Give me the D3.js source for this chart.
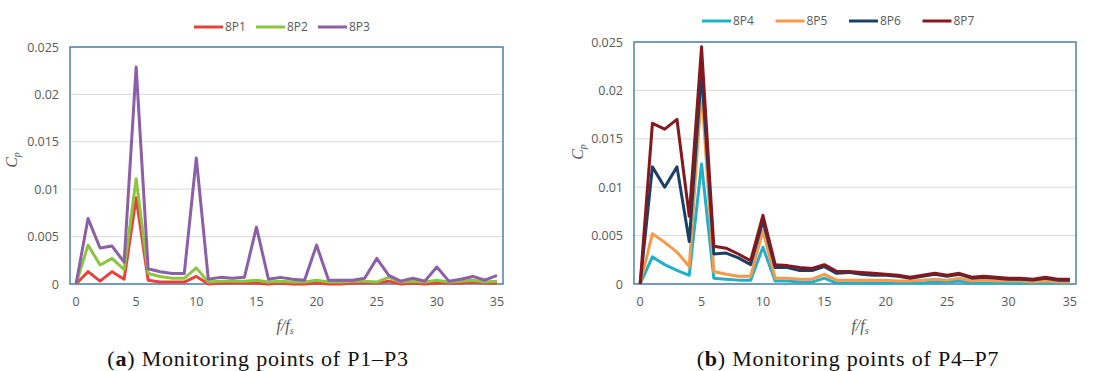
<!DOCTYPE html>
<html>
<head>
<script src="https://d3js.org/d3.v7.min.js"></script>
<style>
  body { margin: 0; background: #fff; }
  .tick text { font-family: "Open Sans", sans-serif; font-size: 12.5px; fill: #595959; }
  .legend text { font-family: "Open Sans", sans-serif; font-size: 12px; fill: #595959; }
  .caption { font-family: "Liberation Serif", serif; font-size: 22px; letter-spacing: 0.8px; fill: #111; }
</style>
</head>
<body>
<div class="chart"></div>
<script>
var w = 1112, h = 371;

// f/fs categories 0..35
var freq = d3.range(0, 36);
var xTicks = [0, 5, 10, 15, 20, 25, 30, 35];
var yTicks = [0, 0.005, 0.01, 0.015, 0.02, 0.025];

var p1 = [0, 0.0013, 0.0003, 0.0013, 0.0005, 0.0091, 0.0004, 0.0002, 0.0002, 0.0002, 0.0008, 0.0000,
          0.0001, 0.0001, 0.0001, 0.0001, 0.0000, 0.0001, 0.0000, 0.0000, 0.0001, 0.0000, 0.0000, 0.0001,
          0.0001, 0.0001, 0.0003, 0.0000, 0.0001, 0.0000, 0.0001, 0.0001, 0.0001, 0.0002, 0.0001, 0.0001];
var p2 = [0, 0.0041, 0.0020, 0.0027, 0.0015, 0.0111, 0.0011, 0.0008, 0.0006, 0.0006, 0.0017, 0.0002,
          0.0003, 0.0003, 0.0003, 0.0004, 0.0002, 0.0003, 0.0002, 0.0002, 0.0004, 0.0002, 0.0002, 0.0003,
          0.0003, 0.0002, 0.0007, 0.0002, 0.0003, 0.0002, 0.0004, 0.0002, 0.0003, 0.0004, 0.0002, 0.0003];
var p3 = [0, 0.0069, 0.0038, 0.0040, 0.0023, 0.0229, 0.0016, 0.0013, 0.0011, 0.0011, 0.0133, 0.0005,
          0.0007, 0.0006, 0.0007, 0.0060, 0.0005, 0.0007, 0.0005, 0.0004, 0.0041, 0.0004, 0.0004, 0.0004,
          0.0006, 0.0027, 0.0009, 0.0003, 0.0006, 0.0003, 0.0018, 0.0003, 0.0005, 0.0008, 0.0004, 0.0009];

var p4 = [0, 0.0028, 0.0020, 0.0014, 0.0009, 0.0124, 0.0006, 0.0005, 0.0004, 0.0004, 0.0038, 0.0003,
          0.0003, 0.0002, 0.0002, 0.0006, 0.0001, 0.0001, 0.0001, 0.0001, 0.0001, 0.0001, 0.0001, 0.0001,
          0.0002, 0.0002, 0.0003, 0.0001, 0.0001, 0.0001, 0.0001, 0.0001, 0.0001, 0.0001, 0.0001, 0.0001];
var p5 = [0, 0.0052, 0.0043, 0.0033, 0.0018, 0.0200, 0.0013, 0.0010, 0.0008, 0.0008, 0.0055, 0.0006,
          0.0006, 0.0005, 0.0005, 0.0010, 0.0004, 0.0004, 0.0004, 0.0004, 0.0004, 0.0003, 0.0003, 0.0004,
          0.0005, 0.0004, 0.0006, 0.0003, 0.0004, 0.0003, 0.0003, 0.0003, 0.0002, 0.0003, 0.0002, 0.0002];
var p6 = [0, 0.0121, 0.0100, 0.0121, 0.0044, 0.0220, 0.0031, 0.0032, 0.0027, 0.0020, 0.0065, 0.0017,
          0.0017, 0.0014, 0.0014, 0.0018, 0.0011, 0.0012, 0.0010, 0.0009, 0.0009, 0.0008, 0.0006, 0.0008,
          0.0010, 0.0008, 0.0010, 0.0006, 0.0007, 0.0006, 0.0005, 0.0005, 0.0004, 0.0006, 0.0004, 0.0004];
var p7 = [0, 0.0166, 0.0160, 0.0170, 0.0070, 0.0245, 0.0039, 0.0037, 0.0031, 0.0024, 0.0071, 0.0020,
          0.0019, 0.0017, 0.0016, 0.0020, 0.0013, 0.0013, 0.0012, 0.0011, 0.0010, 0.0009, 0.0007, 0.0009,
          0.0011, 0.0009, 0.0011, 0.0007, 0.0008, 0.0007, 0.0006, 0.0006, 0.0005, 0.0007, 0.0005, 0.0005];

var leftSeries = [
  {name: "8P1", values: p1, color: "#e8413c"},
  {name: "8P2", values: p2, color: "#8cc540"},
  {name: "8P3", values: p3, color: "#8c5fa8"}
];
var rightSeries = [
  {name: "8P4", values: p4, color: "#1fb1c9"},
  {name: "8P5", values: p5, color: "#f7994a"},
  {name: "8P6", values: p6, color: "#1c3f66"},
  {name: "8P7", values: p7, color: "#86181d"}
];

var svg = d3.select(".chart").append("svg")
  .attr("width", w).attr("height", h);

function drawPanel(opt) {
  var x = d3.scaleBand().domain(freq).range([opt.left, opt.right]);
  var y = d3.scaleLinear().domain([0, 0.025]).range([284, opt.top]);
  var g = svg.append("g");

  // gridlines
  g.append("g").selectAll("line")
    .data(yTicks).enter().append("line")
    .attr("x1", opt.left).attr("x2", opt.right)
    .attr("y1", function(d) { return y(d); })
    .attr("y2", function(d) { return y(d); })
    .attr("stroke", "#d9d9d9").attr("stroke-width", 1);

  // plot border
  g.append("rect")
    .attr("x", opt.left).attr("y", opt.top)
    .attr("width", opt.right - opt.left).attr("height", 284 - opt.top)
    .attr("fill", "none").attr("stroke", "#4e80b0").attr("stroke-width", 1.5);

  var yAxis = g.append("g")
    .attr("transform", "translate(" + (opt.left - 8) + ",0)")
    .call(d3.axisLeft(y).tickValues(yTicks).tickSize(0)
      .tickFormat(function(d) { return d === 0 ? "0" : String(d); }));
  yAxis.select(".domain").remove();

  var xAxis = g.append("g")
    .attr("transform", "translate(0,294)")
    .call(d3.axisBottom(x).tickValues(xTicks).tickSize(0));
  xAxis.select(".domain").remove();

  var line = d3.line()
    .x(function(d, i) { return x(freq[i]) + x.bandwidth() / 2; })
    .y(function(d) { return y(d); });

  g.append("g").selectAll("path")
    .data(opt.series).enter().append("path")
    .attr("d", function(d) { return line(d.values); })
    .attr("fill", "none")
    .attr("stroke", function(d) { return d.color; })
    .attr("stroke-width", 3)
    .attr("stroke-linejoin", "round");

  // legend
  var lg = g.append("g").attr("class", "legend")
    .selectAll("g").data(opt.series).enter().append("g")
    .attr("transform", function(d, i) { return "translate(" + (opt.legendX + i * opt.legendStep) + "," + opt.legendY + ")"; });
  lg.append("line")
    .attr("x1", 0).attr("x2", 29).attr("y1", 0).attr("y2", 0)
    .attr("stroke", function(d) { return d.color; }).attr("stroke-width", 3);
  lg.append("text")
    .attr("x", 31).attr("dy", "0.35em")
    .text(function(d) { return d.name; });

  // y title
  var yt = g.append("text")
    .attr("transform", "translate(" + opt.cpX + "," + opt.cpY + ") rotate(-90)")
    .attr("text-anchor", "middle")
    .attr("font-family", "Liberation Serif, serif")
    .attr("font-style", "italic")
    .attr("font-size", 16)
    .attr("fill", "#595959");
  yt.append("tspan").text("C");
  yt.append("tspan").attr("font-size", 10).attr("dy", 3).text("p");

  // x title
  var xt = g.append("text")
    .attr("x", opt.fX).attr("y", 331)
    .attr("text-anchor", "middle")
    .attr("font-family", "Liberation Serif, serif")
    .attr("font-style", "italic")
    .attr("font-size", 16)
    .attr("fill", "#595959");
  xt.append("tspan").text("f/f");
  xt.append("tspan").attr("font-size", 10).attr("dy", 3).text("s");

  // caption
  var cap = g.append("text").attr("class", "caption")
    .attr("x", opt.capX).attr("y", 366)
    .attr("text-anchor", "middle");
  cap.append("tspan").text("(");
  cap.append("tspan").attr("font-weight", "bold").text(opt.capLetter);
  cap.append("tspan").text(") " + opt.capText);
}

drawPanel({
  left: 70, right: 503, top: 47, series: leftSeries,
  legendX: 194, legendY: 27, legendStep: 62,
  cpX: 17, cpY: 160, fX: 285,
  capX: 258, capLetter: "a", capText: "Monitoring points of P1\u2013P3"
});

drawPanel({
  left: 634, right: 1076, top: 42, series: rightSeries,
  legendX: 702, legendY: 21, legendStep: 73.5,
  cpX: 583, cpY: 152, fX: 860,
  capX: 848, capLetter: "b", capText: "Monitoring points of P4\u2013P7"
});
</script>
</body>
</html>
